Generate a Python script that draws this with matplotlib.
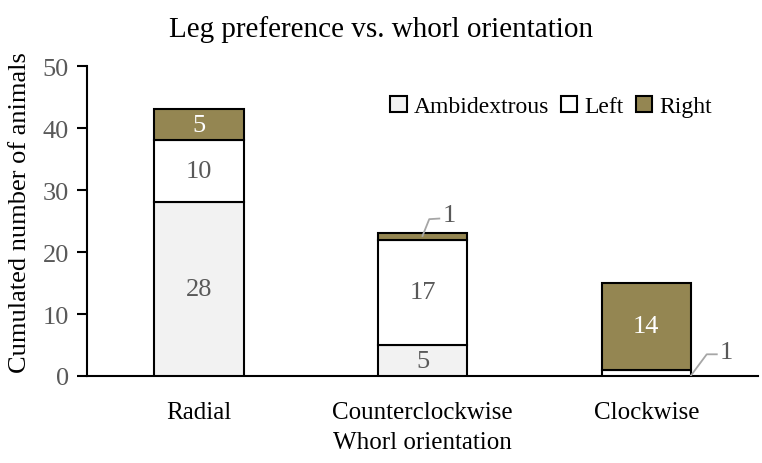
import numpy as np
import matplotlib.pyplot as plt

categories = ['Radial', 'Counterclockwise', 'Clockwise']
ambidextrous = [28, 5, 0]
left = [10, 17, 1]
right = [5, 1, 14]

plt.rcParams['font.family'] = ['Liberation Serif', 'DejaVu Serif']

colors = {'Ambidextrous': '#F2F2F2', 'Left': '#FFFFFF', 'Right': '#948652'}
gray = '#595959'

fig = plt.figure(figsize=(7.62, 4.64), dpi=100)
ax = fig.add_axes([0.114, 0.1875, 0.881, 0.668])

x = np.arange(len(categories))
w = 0.40
bottom = np.zeros(len(categories))
series = [('Ambidextrous', ambidextrous), ('Left', left), ('Right', right)]
for name, vals in series:
    vals = np.array(vals)
    ax.bar(x, vals, w, bottom=bottom, color=colors[name], edgecolor='black',
           linewidth=1.5, label=name, zorder=3)
    for i, v in enumerate(vals):
        if v >= 2:
            tc = 'white' if name == 'Right' else gray
            ax.text(x[i], bottom[i] + v / 2, str(v), ha='center', va='center',
                    fontsize=19, color=tc, zorder=4)
    bottom = bottom + vals

# small segments labelled with leader lines
totals = np.array(ambidextrous) + np.array(left) + np.array(right)
ax.plot([x[1], x[1] + 0.03, x[1] + 0.075], [totals[1] - 0.4, totals[1] + 2.3, totals[1] + 2.4],
        color='#A6A6A6', lw=1.3, zorder=5)
ax.text(x[1] + 0.09, totals[1] + 3.0, str(right[1]), ha='left', va='center', fontsize=19, color=gray)
ax.plot([x[2] + w / 2, x[2] + w / 2 + 0.07, x[2] + w / 2 + 0.115], [0.1, 3.5, 3.5],
        color='#A6A6A6', lw=1.3, zorder=5)
ax.text(x[2] + w / 2 + 0.13, 3.9, str(left[2]), ha='left', va='center', fontsize=19, color=gray)

ax.set_xlim(-0.5, 2.5)
ax.set_ylim(0, 50)
ax.set_yticks([0, 10, 20, 30, 40, 50])
ax.set_xticks(x)
ax.set_xticklabels(categories, fontsize=18)
ax.tick_params(axis='y', labelsize=19, labelcolor=gray, length=7, width=1.5, direction='out', pad=6)
ax.tick_params(axis='x', length=0, pad=18)
for s in ['top', 'right']:
    ax.spines[s].set_visible(False)
for s in ['left', 'bottom']:
    ax.spines[s].set_linewidth(1.5)

ax.set_ylabel('Cumulated number of animals', fontsize=19)
ax.yaxis.set_label_coords(-0.083, 0.53)
ax.set_xlabel('Whorl orientation', fontsize=18, labelpad=6)
fig.suptitle('Leg preference vs. whorl orientation', fontsize=21, x=0.5, y=0.965, va='top')

leg = ax.legend(loc='upper right', bbox_to_anchor=(0.945, 0.935), ncol=3, frameon=False,
                fontsize=17, handlelength=0.7, handleheight=0.7, handletextpad=0.3,
                columnspacing=0.5, borderaxespad=0)

fig.savefig('out.png', dpi=100)
